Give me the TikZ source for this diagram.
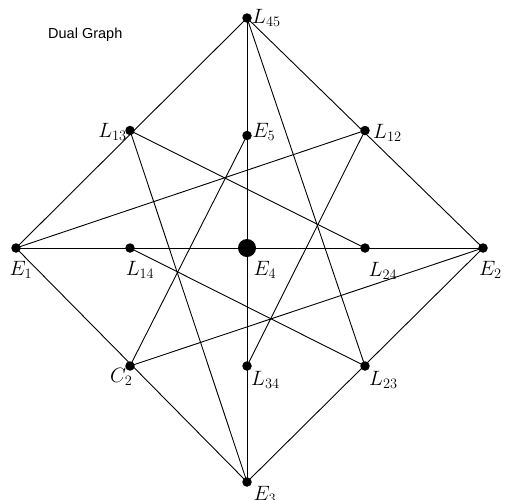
\documentclass[tikz,border=0pt]{standalone}
\usepackage{fontspec}
\newfontfamily\labelsans{Liberation Sans}
\begin{document}
\begin{tikzpicture}[x=1pt,y=-1pt,
  dot/.style={circle,fill=black,inner sep=0pt,minimum size=9.5pt},
  bigdot/.style={circle,fill=black,inner sep=0pt,minimum size=18pt},
  edge/.style={draw=black,line width=0.9pt},
  lab/.style={inner sep=0pt,font=\fontsize{21.5}{25}\selectfont}]
\useasboundingbox (0,0) rectangle (505,499);
\coordinate (L45) at (247,18);
\coordinate (E5) at (247,135.5);
\coordinate (L13) at (130,130.5);
\coordinate (L12) at (365,130.5);
\coordinate (E1) at (16,248);
\coordinate (L14) at (130,248);
\coordinate (E4) at (247,248);
\coordinate (L24) at (365,248);
\coordinate (E2) at (483,248);
\coordinate (C2) at (130,366);
\coordinate (L34) at (247,366);
\coordinate (L23) at (365,366);
\coordinate (E3) at (247,482);
% edges
\draw[edge] (L45) -- (E1) -- (E3) -- (E2) -- cycle;
\draw[edge] (L45) -- (E3);
\draw[edge] (E1) -- (E2);
\draw[edge] (L13) -- (L24);
\draw[edge] (L13) -- (E3);
\draw[edge] (E1) -- (L12);
\draw[edge] (L12) -- (L34);
\draw[edge] (L45) -- (L23);
\draw[edge] (E5) -- (C2);
\draw[edge] (C2) -- (E2);
\draw[edge] (L14) -- (L23);
% dots
\foreach \p in {L45,E5,L13,L12,E1,L14,L24,E2,C2,L34,L23,E3}
  \node[dot] (d\p) at (\p) {};
\node[bigdot] (dE4) at (E4) {};
% labels
\node[lab,anchor=base west] (tL45) at (252,23.5) {$L_{45}$};
\node[lab,anchor=base west] (tE5) at (252.5,137) {$E_5$};
\node[lab,anchor=base east] (tL13) at (127,137.5) {$L_{13}$};
\node[lab,anchor=base west] (tL12) at (373,138) {$L_{12}$};
\node[lab,anchor=base] (tE1) at (21,275) {$E_1$};
\node[lab,anchor=base] (tL14) at (140,275) {$L_{14}$};
\node[lab,anchor=base west] (tE4) at (253.5,275) {$E_4$};
\node[lab,anchor=base west] (tL24) at (368.5,276) {$L_{24}$};
\node[lab,anchor=base west] (tE2) at (479,275) {$E_2$};
\node[lab,anchor=base east] (tC2) at (132.5,382) {$C_2$};
\node[lab,anchor=base west] (tL34) at (251,385) {$L_{34}$};
\node[lab,anchor=base west] (tL23) at (369,385) {$L_{23}$};
\node[lab,anchor=base west] (tE3) at (253.5,500) {$E_3$};
\node[anchor=base west,inner sep=0pt,font=\labelsans\fontsize{14.5}{17}\selectfont] (title) at (48,38) {Dual Graph};
\end{tikzpicture}
\end{document}
